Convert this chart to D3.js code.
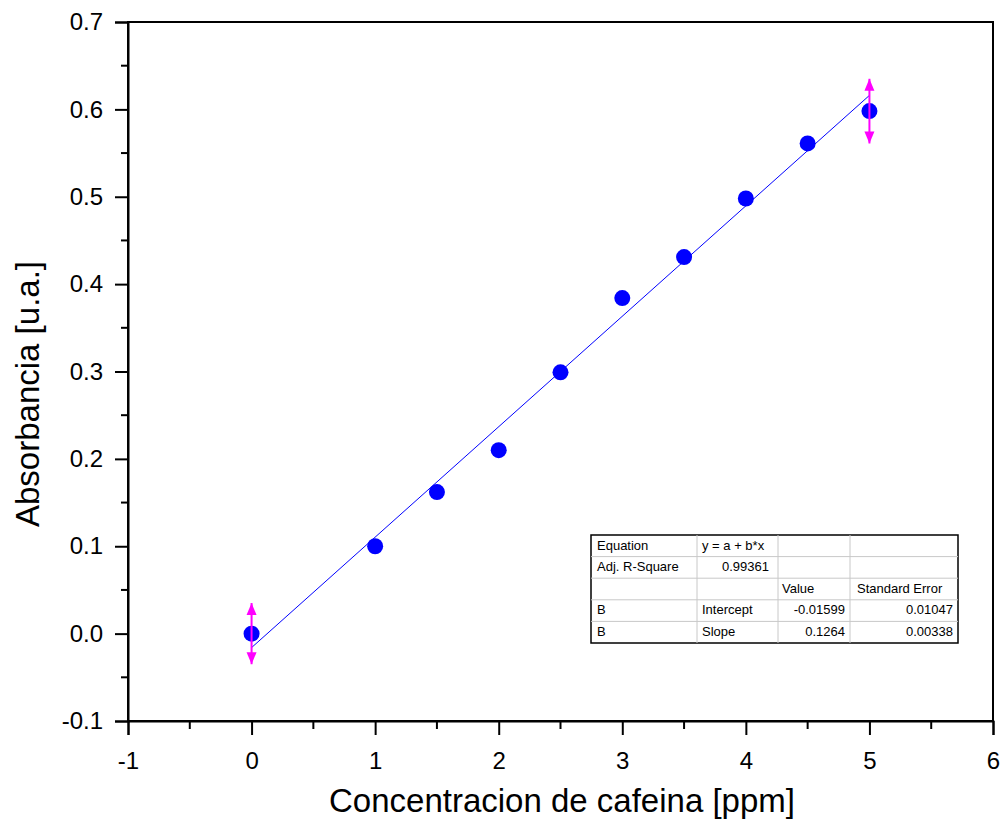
<!DOCTYPE html>
<html>
<head>
<meta charset="utf-8">
<script src="https://cdn.jsdelivr.net/npm/d3@7"></script>
<style>
  body { margin: 0; background: #fff; }
  svg { display: block; font-family: "Liberation Sans", Arial, sans-serif; }
</style>
</head>
<body>
<svg id="chart" width="1005" height="826"></svg>
<script>
const concentration = [0, 1, 1.5, 2, 2.5, 3, 3.5, 4, 4.5, 5];
const absorbance    = [0.0, 0.100, 0.162, 0.210, 0.299, 0.384, 0.431, 0.498, 0.561, 0.598];
const errX   = [0, 5];
const errY   = [0.0, 0.598];
const errVal = [0.035, 0.037];

const fitIntercept = -0.01599;
const fitSlope = 0.1264;

const xTicks = [-1, 0, 1, 2, 3, 4, 5, 6];
const yTicks = [-0.1, 0.0, 0.1, 0.2, 0.3, 0.4, 0.5, 0.6, 0.7];

const tableRows = [
  ["Equation", "y = a + b*x", "", ""],
  ["Adj. R-Square", "0.99361", "", ""],
  ["", "", "Value", "Standard Error"],
  ["B", "Intercept", "-0.01599", "0.01047"],
  ["B", "Slope", "0.1264", "0.00338"]
];

const M = { left: 128, top: 22, right: 993, bottom: 721 };
const svg = d3.select("#chart");

const x = d3.scaleLinear().domain([-1, 6]).range([M.left, M.right]);
const y = d3.scaleLinear().domain([-0.1, 0.7]).range([M.bottom, M.top]);

// hyphen minus like the original
const fmtX = d => d3.format("d")(d).replace("−", "-");
const fmtY = d => d3.format(".1f")(d).replace("−", "-");

// frame
svg.append("rect")
  .attr("x", M.left).attr("y", M.top)
  .attr("width", M.right - M.left).attr("height", M.bottom - M.top)
  .attr("fill", "none").attr("stroke", "#000").attr("stroke-width", 2);

// bottom axis
const xMinor = d3.range(-0.5, 6, 1);
svg.append("g").selectAll("line").data(xMinor).join("line")
  .attr("x1", d => x(d)).attr("x2", d => x(d))
  .attr("y1", M.bottom).attr("y2", M.bottom + 8)
  .attr("stroke", "#000").attr("stroke-width", 2);
const xAxis = svg.append("g")
  .attr("transform", `translate(0,${M.bottom})`)
  .call(d3.axisBottom(x).tickValues(xTicks).tickSize(14).tickPadding(17).tickFormat(fmtX));
xAxis.select(".domain").attr("stroke-width", 2);
xAxis.selectAll(".tick line").attr("stroke-width", 2);
xAxis.selectAll("text").attr("font-size", 24).attr("font-family", "Liberation Sans, Arial, sans-serif").attr("fill", "#000");

// left axis
const yMinor = d3.range(-0.05, 0.7, 0.1);
svg.append("g").selectAll("line").data(yMinor).join("line")
  .attr("x1", M.left - 7).attr("x2", M.left)
  .attr("y1", d => y(d)).attr("y2", d => y(d))
  .attr("stroke", "#000").attr("stroke-width", 2);
const yAxis = svg.append("g")
  .attr("transform", `translate(${M.left},0)`)
  .call(d3.axisLeft(y).tickValues(yTicks).tickSize(13).tickPadding(12).tickFormat(fmtY));
yAxis.select(".domain").attr("stroke-width", 2);
yAxis.selectAll(".tick line").attr("stroke-width", 2);
yAxis.selectAll("text").attr("font-size", 24).attr("font-family", "Liberation Sans, Arial, sans-serif").attr("fill", "#000");

// axis titles
svg.append("text")
  .attr("x", 562).attr("y", 812)
  .attr("text-anchor", "middle").attr("font-size", 33)
  .text("Concentracion de cafeina [ppm]");
svg.append("text")
  .attr("transform", `translate(39,394) rotate(-90)`)
  .attr("text-anchor", "middle").attr("font-size", 33)
  .text("Absorbancia [u.a.]");

// fit line
svg.append("line")
  .attr("x1", x(0)).attr("y1", y(fitIntercept))
  .attr("x2", x(5)).attr("y2", y(fitIntercept + fitSlope * 5))
  .attr("stroke", "#0000ff").attr("stroke-width", 1);

// data points
svg.append("g").selectAll("circle").data(concentration).join("circle")
  .attr("cx", d => x(d))
  .attr("cy", (d, i) => y(absorbance[i]))
  .attr("r", 8)
  .attr("fill", "#0000ff");

// error bars (magenta arrows)
const eg = svg.append("g");
errX.forEach((xv, i) => {
  const cx = x(xv);
  const top = y(errY[i] + errVal[i]);
  const bot = y(errY[i] - errVal[i]);
  eg.append("line")
    .attr("x1", cx).attr("x2", cx).attr("y1", top).attr("y2", bot)
    .attr("stroke", "#ff00ff").attr("stroke-width", 2);
  eg.append("path")
    .attr("d", `M${cx},${top} L${cx - 5},${top + 12} L${cx + 5},${top + 12} Z`)
    .attr("fill", "#ff00ff");
  eg.append("path")
    .attr("d", `M${cx},${bot} L${cx - 5},${bot - 12} L${cx + 5},${bot - 12} Z`)
    .attr("fill", "#ff00ff");
});

// fit table
const tX = 591, tY = 535, rowH = 21.6;
const colX = [591, 697, 778, 850, 958];
const padL = [6, 5, 4, 7];
const tg = svg.append("g").attr("font-size", 13);
tg.append("rect")
  .attr("x", tX).attr("y", tY)
  .attr("width", colX[4] - tX).attr("height", rowH * 5)
  .attr("fill", "#fff").attr("stroke", "#000").attr("stroke-width", 1.5);
for (let r = 1; r < 5; r++) {
  tg.append("line")
    .attr("x1", tX).attr("x2", colX[4])
    .attr("y1", tY + r * rowH).attr("y2", tY + r * rowH)
    .attr("stroke", "#c8c8c8");
}
for (let c = 1; c < 4; c++) {
  tg.append("line")
    .attr("x1", colX[c]).attr("x2", colX[c])
    .attr("y1", tY).attr("y2", tY + rowH * 5)
    .attr("stroke", "#c8c8c8");
}
// numbers are right aligned
const rightAligned = (r, c) =>
  (r === 1 && c === 1) || (r >= 3 && c >= 2);
tableRows.forEach((row, r) => {
  row.forEach((txt, c) => {
    if (!txt) return;
    const ra = rightAligned(r, c);
    tg.append("text")
      .attr("x", ra ? colX[c + 1] - (c === 1 ? 9 : 5) : colX[c] + padL[c])
      .attr("y", tY + r * rowH + 14.5)
      .attr("text-anchor", ra ? "end" : "start")
      .text(txt);
  });
});
</script>
</body>
</html>
